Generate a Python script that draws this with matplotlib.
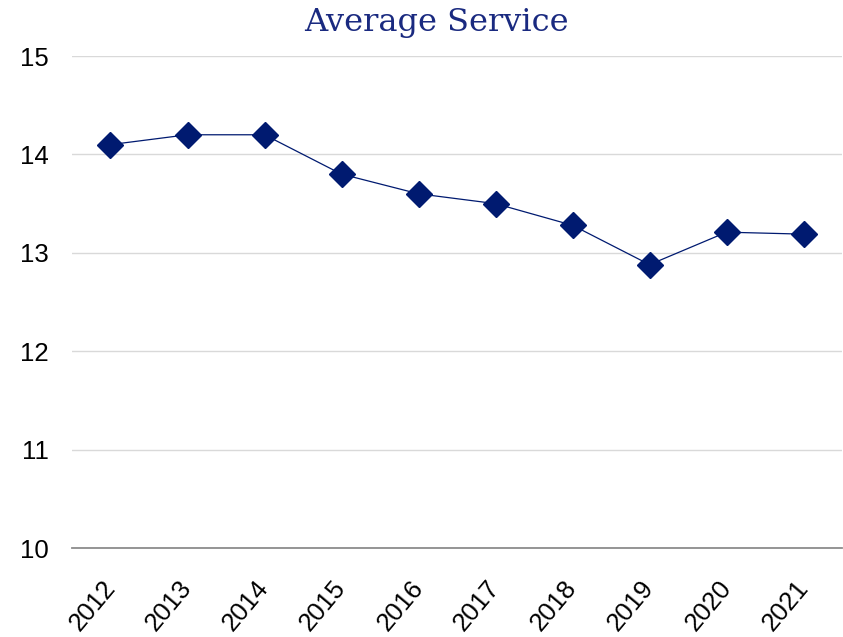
import matplotlib
matplotlib.use('Agg')
from matplotlib import pyplot as plt
from matplotlib.transforms import ScaledTranslation

years = ['2012', '2013', '2014', '2015', '2016', '2017', '2018', '2019', '2020', '2021']
service = [14.1, 14.2, 14.2, 13.8, 13.6, 13.5, 13.28, 12.88, 13.21, 13.19]

NAVY = '#001a70'


def main():
    plt.rcParams['font.family'] = ['Liberation Sans', 'DejaVu Sans']
    fig = plt.figure(figsize=(8.43, 6.37), dpi=100)
    ax = fig.add_axes([0.0854, 0.1397, 0.9135, 0.7723])

    x = range(len(years))
    ax.plot(x, service, color=NAVY, linewidth=0.9, marker='D', markersize=13,
            markerfacecolor=NAVY, markeredgecolor=NAVY)

    ax.set_xlim(-0.5, len(years) - 0.5)
    ax.set_ylim(10, 15)
    ax.set_yticks([10, 11, 12, 13, 14, 15])
    ax.set_xticks(list(x))
    ax.set_xticklabels(years, rotation=50, ha='right', rotation_mode='anchor')
    ax.tick_params(axis='both', length=0, labelsize=18.5, colors='black')
    ax.tick_params(axis='y', pad=17)
    ax.tick_params(axis='x', pad=20)
    shift = ScaledTranslation(-9 / 100, 0, fig.dpi_scale_trans)
    for lbl in ax.get_xticklabels():
        lbl.set_transform(lbl.get_transform() + shift)

    ax.grid(axis='y', color='#d9d9d9', linewidth=1)
    ax.set_axisbelow(True)
    for side in ['top', 'right', 'left']:
        ax.spines[side].set_visible(False)
    ax.spines['bottom'].set_color('#8c8c8c')
    ax.spines['bottom'].set_linewidth(1.3)

    fig.text(0.518, 0.965, 'Average Service', ha='center', va='center',
             fontsize=23, color='#1a2a80', family=['DejaVu Serif'])

    fig.savefig('out.png', dpi=100)


if __name__ == '__main__':
    main()
